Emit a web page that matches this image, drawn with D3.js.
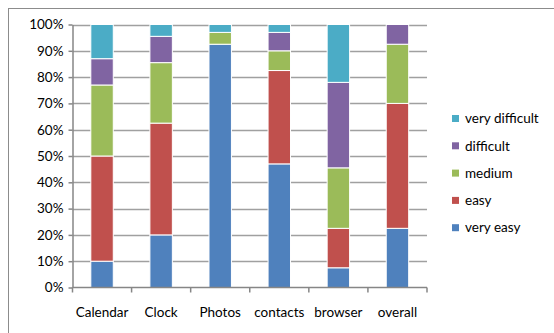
<!DOCTYPE html>
<html>
<head>
<meta charset="utf-8">
<script src="https://cdn.jsdelivr.net/npm/d3@7"></script>
<style>
  html, body { margin: 0; padding: 0; background: #fff; }
  svg { display: block; font-family: Lato, "Open Sans", sans-serif; }
</style>
</head>
<body>
<svg id="chart" width="554" height="333"></svg>
<script>
// Task categories and the share of ratings (percent) per difficulty level
const categories = ["Calendar", "Clock", "Photos", "contacts", "browser", "overall"];
const seriesNames = ["very easy", "easy", "medium", "difficult", "very difficult"];
const veryEasy      = [10, 20,   92.5, 47,   7.5,  22.5];
const easy          = [40, 42.5, 0,    35.5, 15,   47.5];
const medium        = [27, 23,   4.5,  7.5,  23,   22.5];
const difficult     = [10, 10,   0,    7,    32.5, 7.5];
const veryDifficult = [13, 4.5,  3,    3,    22,   0];
const yTicks = [0, 10, 20, 30, 40, 50, 60, 70, 80, 90, 100];
const colors = ["#4F81BD", "#C0504D", "#9BBB59", "#8064A2", "#4BACC6"];

const rows = categories.map((c, i) => ({
  cat: c,
  "very easy": veryEasy[i],
  "easy": easy[i],
  "medium": medium[i],
  "difficult": difficult[i],
  "very difficult": veryDifficult[i]
}));

const svg = d3.select("#chart");

// outer chart frame
svg.append("rect")
  .attr("x", 8.5).attr("y", 8.5)
  .attr("width", 600).attr("height", 400)
  .attr("fill", "#fff").attr("stroke", "#8c8c8c").attr("stroke-width", 1);

const plot = { left: 72.5, right: 427, top: 24.5, bottom: 287.5 };

const x = d3.scaleBand().domain(categories)
  .range([plot.left, plot.right]).paddingInner(0.62).paddingOuter(0.31);
const y = d3.scaleLinear().domain([0, 100]).range([plot.bottom, plot.top]);

// horizontal gridlines
svg.append("g").selectAll("line").data(yTicks.filter(t => t > 0)).join("line")
  .attr("x1", plot.left).attr("x2", plot.right)
  .attr("y1", d => Math.round(y(d)) + 0.5).attr("y2", d => Math.round(y(d)) + 0.5)
  .attr("stroke", "#a0a0a0").attr("stroke-width", 1.5);

// stacked bars
const stack = d3.stack().keys(seriesNames);
const layers = stack(rows);
svg.append("g").selectAll("g").data(layers).join("g")
  .attr("fill", (d, i) => colors[i])
  .selectAll("rect").data(d => d.filter(s => s[1] - s[0] > 0)).join("rect")
  .attr("x", d => x(d.data.cat))
  .attr("width", x.bandwidth())
  .attr("y", d => y(d[1]))
  .attr("height", d => y(d[0]) - y(d[1]))
  .attr("stroke", "#fff").attr("stroke-width", 1);

// y axis
const yAxis = d3.axisLeft(y).tickValues(yTicks).tickFormat(d => d + "%").tickSize(4).tickSizeOuter(0);
const gy = svg.append("g").attr("transform", `translate(${plot.left},0)`).call(yAxis);
gy.select(".domain").attr("stroke", "#868686").attr("stroke-width", 1.5);
gy.selectAll(".tick line").attr("stroke", "#868686").attr("stroke-width", 1.5);
gy.selectAll(".tick text").attr("x", -9).attr("font-size", 13.5).attr("fill", "#000")
  .attr("font-family", "Lato, sans-serif");

// x axis: tick marks sit between categories
const bounds = d3.range(categories.length + 1).map(i => plot.left + i * x.step());
const gx = svg.append("g");
gx.append("line").attr("x1", plot.left).attr("x2", plot.right)
  .attr("y1", plot.bottom).attr("y2", plot.bottom)
  .attr("stroke", "#868686").attr("stroke-width", 1.5);
gx.selectAll("line.tk").data(bounds).join("line").attr("class", "tk")
  .attr("x1", d => d).attr("x2", d => d)
  .attr("y1", plot.bottom).attr("y2", plot.bottom + 5)
  .attr("stroke", "#868686").attr("stroke-width", 1.5);
gx.selectAll("text").data(categories).join("text")
  .attr("x", d => x(d) + x.bandwidth() / 2)
  .attr("y", 316.5)
  .attr("text-anchor", "middle").attr("font-size", 13.5).attr("fill", "#000")
  .text(d => d);

// legend, top entry is the last series
const legend = svg.append("g");
const legendItems = seriesNames.map((n, i) => ({ name: n, color: colors[i] })).reverse();
legendItems.forEach((d, i) => {
  const cy = 118.5 + i * 27.3;
  legend.append("rect").attr("x", 452).attr("y", cy - 3.5).attr("width", 7).attr("height", 7)
    .attr("fill", d.color);
  legend.append("text").attr("x", 465).attr("y", cy).attr("dy", "0.35em")
    .attr("font-size", 13.5).attr("fill", "#000").text(d.name);
});
</script>
</body>
</html>
